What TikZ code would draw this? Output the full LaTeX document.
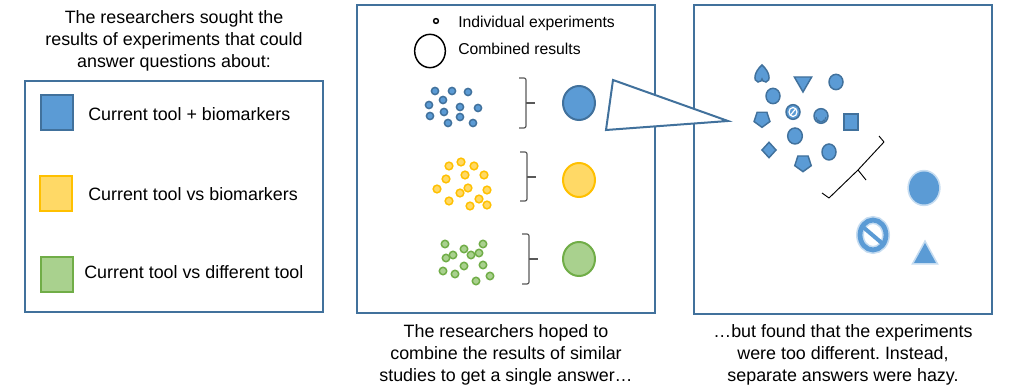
\documentclass[tikz,border=0pt]{standalone}
\usepackage{fontspec}
\setmainfont{Liberation Sans}
\usetikzlibrary{shapes.geometric,calc}
\frenchspacing
\definecolor{Frame}{HTML}{41719C}
\definecolor{BlueFill}{HTML}{5B9BD5}
\definecolor{YellowFill}{HTML}{FFD966}
\definecolor{YellowLine}{HTML}{FFC000}
\definecolor{GreenFill}{HTML}{A9D18E}
\definecolor{GreenLine}{HTML}{70AD47}
\definecolor{Brace}{HTML}{595959}
\tikzset{
  panel/.style={draw=Frame,line width=1.5pt},
  key/.style={minimum width=24pt,minimum height=26pt,inner sep=0pt,line width=1.6pt},
  lab/.style={anchor=base west,inner sep=0pt,font=\fontsize{13.4}{16.5}\selectfont},
  note/.style={anchor=base,inner sep=0pt,align=center,font=\fontsize{13.4}{16.5}\selectfont},
  small/.style={anchor=base west,inner sep=0pt,font=\fontsize{11.8}{14}\selectfont},
  bdot/.style={circle,draw=Frame,fill=BlueFill,line width=1.1pt,inner sep=0pt,minimum size=5.4pt},
  ydot/.style={circle,draw=YellowLine,fill=YellowFill,line width=1.1pt,inner sep=0pt,minimum size=5.8pt},
  gdot/.style={circle,draw=GreenLine,fill=GreenFill,line width=1.1pt,inner sep=0pt,minimum size=5.6pt},
  pool/.style={ellipse,line width=1.5pt,inner sep=0pt,minimum width=24pt,minimum height=25.5pt},
  brk/.style={draw=Brace,line width=0.9pt},
  shp/.style={draw=Frame,fill=BlueFill,line width=1.1pt,inner sep=0pt},
  haze/.style={fill=BlueFill,draw=BlueFill,draw opacity=.35,line width=2.5pt},
}
\begin{document}
\begin{tikzpicture}[x=0.75pt,y=-0.75pt]
\useasboundingbox (0,0) rectangle (1022,391);

% left panel: questions
\node[note] (ask) at (174,68) {The researchers sought the\\results of experiments that could\\answer questions about:};
\draw[panel] (25,81) rectangle (323,312);
\node[key,draw=Frame,fill=BlueFill] (kb) at (57,112.5) {};
\node[key,draw=YellowLine,fill=YellowFill] (ky) at (56,193.5) {};
\node[key,draw=GreenLine,fill=GreenFill] (kg) at (57,274.5) {};
\node[lab] (lb) at (88,121) {Current tool + biomarkers};
\node[lab] (ly) at (88,201) {Current tool vs biomarkers};
\node[lab] (lg) at (84,279) {Current tool vs different tool};

% middle panel: hoped-for pooling
\draw[panel] (357,5) rectangle (655,313);
\node[circle,draw=black,line width=1.1pt,inner sep=0pt,minimum size=3.6pt] (one) at (436,21) {};
\node[ellipse,draw=black,line width=1.1pt,inner sep=0pt,minimum width=23pt,minimum height=25pt] (all) at (430,51) {};
\node[small] (lone) at (458,28) {Individual experiments};
\node[small] (lall) at (458,55) {Combined results};

\foreach \x/\y [count=\i] in {435/91,452/91,468/92,443/100,429/105,460/107,478/108,444/112,430/116,460/117,448/123,473/123}
  \node[bdot] (b\i) at (\x,\y) {};
\foreach \x/\y [count=\i] in {449/166,461/162,474/166,446/179,465/175,484/175,437/189,468/188,460/193,487/190,479/199,449/201,470/206,487/205}
  \node[ydot] (y\i) at (\x,\y) {};
\foreach \x/\y [count=\i] in {445/244,483/244,464/249,453/255,471/255,479/253,446/258,464/266,483/265,443/271,455/274,490/276,476/281}
  \node[gdot] (g\i) at (\x,\y) {};

\draw[brk,rounded corners=1.5pt] (519,78) -- (526,78) -- (526,128) -- (519,128);
\draw[brk] (526,103) -- (535,103);
\draw[brk,rounded corners=1.5pt] (520,152) -- (527,152) -- (527,201) -- (520,201);
\draw[brk] (527,177) -- (536,177);
\draw[brk,rounded corners=1.5pt] (522,234) -- (529,234) -- (529,284) -- (522,284);
\draw[brk] (529,259) -- (538,259);

\node[pool,draw=Frame,fill=BlueFill] (pb) at (579,103) {};
\node[pool,draw=YellowLine,fill=YellowFill] (py) at (579,180) {};
\node[pool,draw=GreenLine,fill=GreenFill] (pg) at (579,259) {};

\node[note] (hope) at (506,382) {The researchers hoped to\\combine the results of similar\\studies to get a single answer\dots};

% right panel: what was found
\draw[panel] (694,5) rectangle (992,314);
\draw[Frame,fill=white,line width=1.5pt,line join=miter] (613,80) -- (606,130) -- (728,121) -- cycle;

\draw[shp] (762,65) .. controls (770,72) and (771,81) .. (766,82) .. controls (763,82) and (762,80) .. (762,79)
  .. controls (762,80) and (761,82) .. (758,82) .. controls (753,81) and (754,72) .. (762,65) -- cycle;
\node[shp,regular polygon,regular polygon sides=3,shape border rotate=180,minimum size=15pt] (s1) at (803,82) {};
\node[shp,ellipse,minimum width=10.5pt,minimum height=11.5pt] (s2) at (836,82) {};
\node[shp,ellipse,minimum width=10.5pt,minimum height=11.5pt] (s3) at (773,96) {};
\node[shp,regular polygon,regular polygon sides=5,shape border rotate=180,minimum size=12.5pt] (s4) at (762,119) {};
\node[shp,ellipse,minimum width=10.5pt,minimum height=11pt] (s5) at (793,112) {};
\draw[white,line width=0.9pt] (s5.center) ellipse [x radius=4,y radius=4.5];
\draw[white,line width=0.9pt] ($(s5.center)+(2.5,-3)$) -- ($(s5.center)+(-2.5,3)$);
\node[shp,ellipse,minimum width=10.5pt,minimum height=11pt] (s6) at (821,116) {};
\draw[Frame,line width=0.7pt] (816,117) arc[start angle=180,end angle=0,radius=5];
\fill[Frame] (818.5,120.5) circle (1) (823.5,120.5) circle (1);
\node[shp,minimum width=10.5pt,minimum height=12pt] (s7) at (851,122) {};
\node[shp,ellipse,minimum width=11pt,minimum height=12pt] (s8) at (795,136) {};
\node[shp,diamond,minimum width=11pt,minimum height=12pt] (s9) at (769,150) {};
\node[shp,regular polygon,regular polygon sides=5,shape border rotate=180,minimum size=13pt] (s10) at (803,163) {};
\node[shp,ellipse,minimum width=10.5pt,minimum height=12pt] (s11) at (829,152) {};

\draw[black,line width=0.7pt,line join=round] (879,136) -- (884,142) -- (858,170) -- (829,198) -- (822,193);
\draw[black,line width=0.7pt] (858,170) -- (866,180);

% hazy answers
\fill[haze] (924,188) ellipse [x radius=15,y radius=16.5];
\draw[BlueFill,line width=3.6pt] (873,235) ellipse [x radius=13,y radius=15];
\draw[BlueFill,opacity=.35,line width=6pt] (873,235) ellipse [x radius=13,y radius=15];
\draw[BlueFill,line width=3pt] (863,227) -- (883,244);
\fill[haze] (925,243) -- (936,263) -- (914,263) -- cycle;

\node[note] (found) at (843,382) {\dots but found that the experiments\\were too different. Instead,\\separate answers were hazy.};
\end{tikzpicture}
\end{document}
